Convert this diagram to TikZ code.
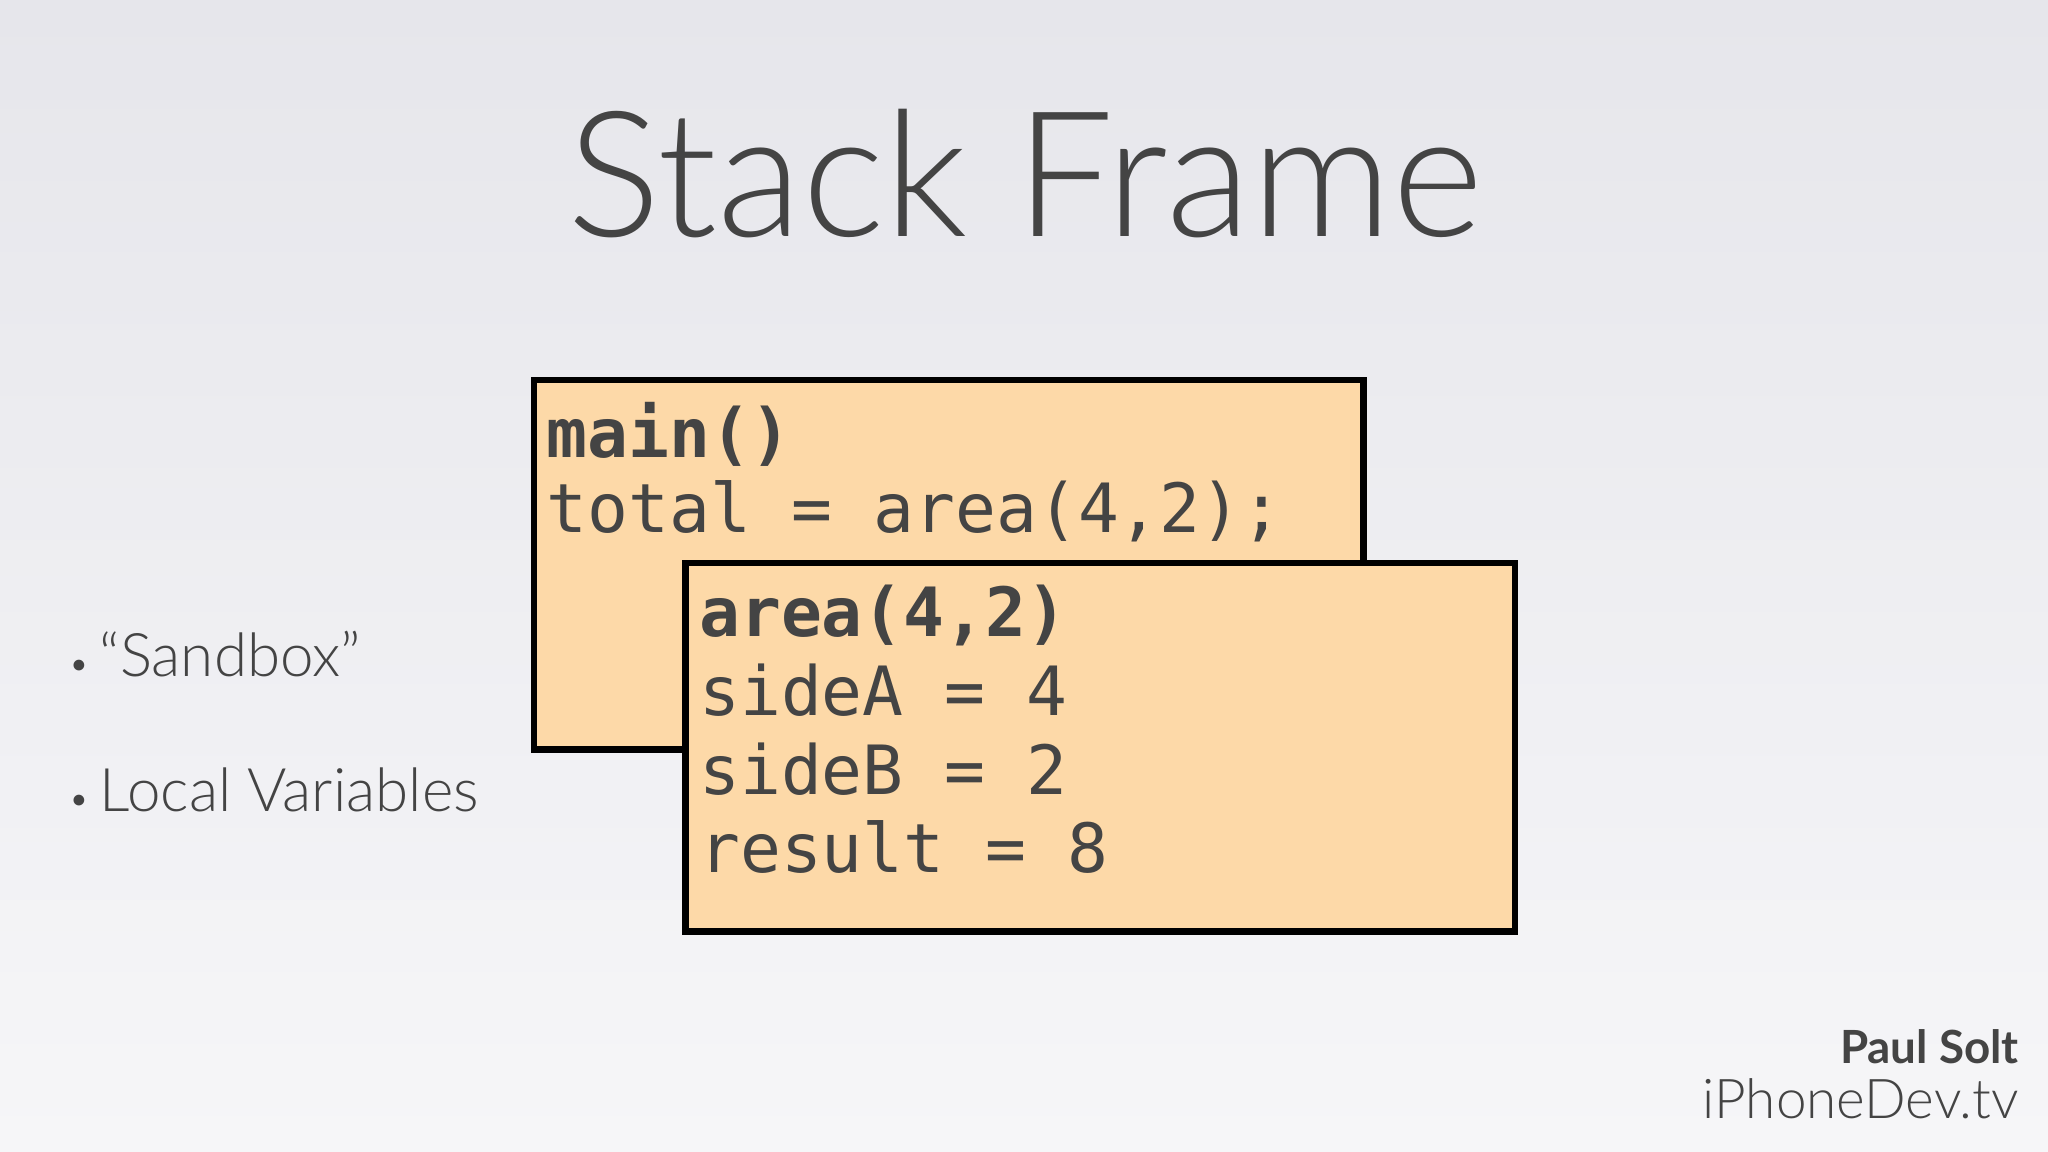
\documentclass[tikz,border=0pt]{standalone}
\usepackage{fontspec}
\setmainfont{Lato}
\newfontfamily\codefont{DejaVu Sans Mono}
\newfontfamily\lightfont{Lato Light}
\definecolor{bgtop}{HTML}{E6E6EB}
\definecolor{bgbot}{HTML}{F6F6F8}
\definecolor{txt}{HTML}{444444}
\definecolor{boxc}{HTML}{FDD9A8}
\tikzset{
  frame/.style={draw=black, line width=2.5pt, fill=boxc},
  code/.style={anchor=base west, inner sep=0pt, text=txt, font=\codefont\fontsize{26}{30}\selectfont},
  bul/.style={anchor=base west, inner sep=0pt, text=txt, font=\lightfont\fontsize{23}{28}\selectfont}
}
\begin{document}
\begin{tikzpicture}[x=0.5pt,y=-0.5pt]
\shade[top color=bgtop, bottom color=bgbot] (0,0) rectangle (1568,882);
\useasboundingbox (0,0) rectangle (1568,882);
\node[anchor=base, inner sep=0pt, text=txt, font=\lightfont\fontsize{67}{80}\selectfont] (title) at (785,181) {Stack Frame};
\draw[frame] (409,291) rectangle (1044,574);
\node[code] (m1) at (418,350) {\bfseries main()};
\node[code] (m2) at (418,408) {total = area(4,2);};
\draw[frame] (525,431) rectangle (1160,713);
\node[code] (a1) at (535,487) {\bfseries area(4,2)};
\node[code] (a2) at (535,548) {sideA = 4};
\node[code] (a3) at (535,608) {sideB = 2};
\node[code] (a4) at (535,668) {result = 8};
\node[bul] (b1) at (52,518) {{\fontsize{14}{14}\selectfont\textbullet}\,“Sandbox”};
\node[bul] (b2) at (52,621) {{\fontsize{14}{14}\selectfont\textbullet}\,Local Variables};
\node[anchor=base east, inner sep=0pt, text=txt, font=\bfseries\fontsize{17.5}{20}\selectfont] (p1) at (1546,814) {Paul Solt};
\node[anchor=base east, inner sep=0pt, text=txt, font=\lightfont\fontsize{21}{25}\selectfont] (p2) at (1546,856) {iPhoneDev.tv};
\end{tikzpicture}
\end{document}
